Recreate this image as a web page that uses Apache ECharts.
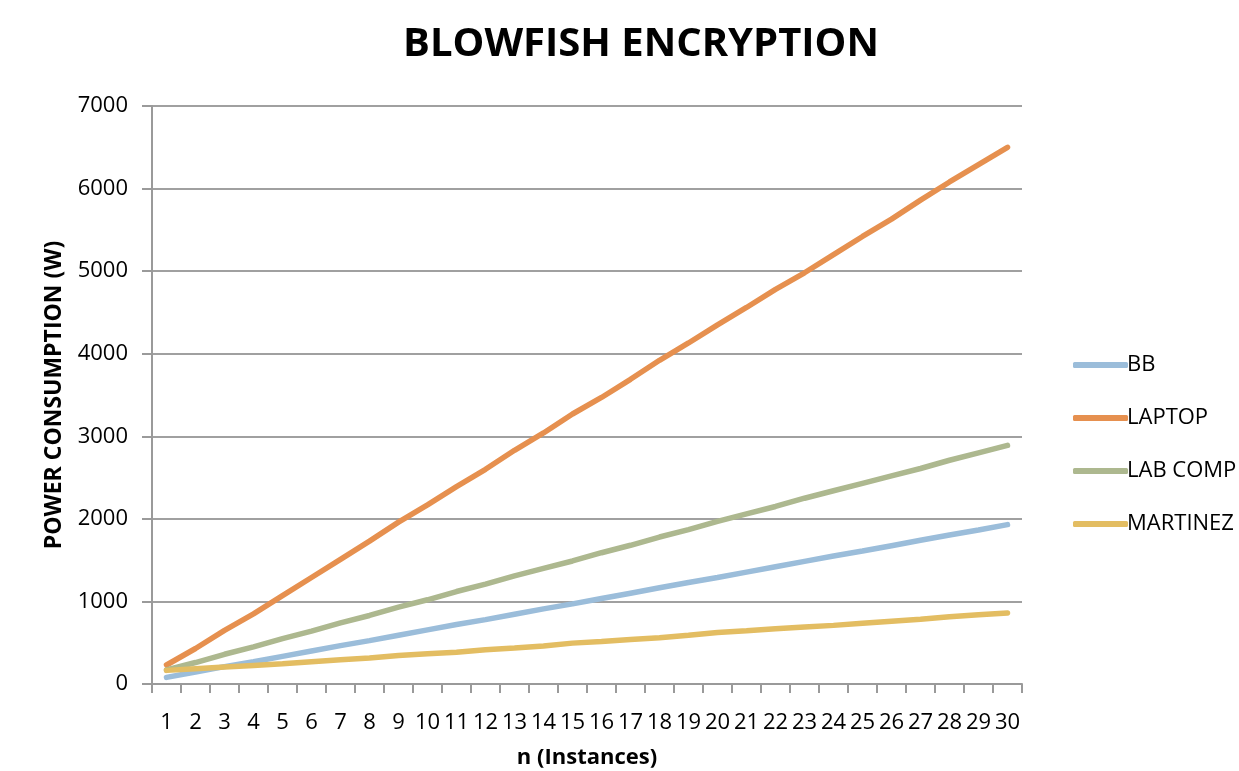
<!DOCTYPE html>
<html>
<head>
<meta charset="utf-8">
<script src="https://cdn.jsdelivr.net/npm/echarts@6/dist/echarts.min.js"></script>
<style>
  html, body { margin: 0; padding: 0; background: #fff; }
  #main { width: 1239px; height: 771px; }
</style>
</head>
<body>
<div id="main"></div>
<script>
const instances = ['1','2','3','4','5','6','7','8','9','10','11','12','13','14','15','16','17','18','19','20','21','22','23','24','25','26','27','28','29','30'];
const bb = [80,145,210,270,335,400,465,525,590,655,720,780,845,910,970,1035,1100,1165,1230,1290,1355,1420,1485,1550,1610,1675,1740,1805,1865,1930];
const laptop = [230,430,650,850,1070,1290,1510,1730,1960,2170,2390,2600,2830,3040,3270,3470,3690,3920,4130,4350,4560,4780,4980,5200,5420,5630,5860,6080,6290,6500];
const labComp = [170,260,360,450,550,640,740,830,930,1020,1120,1210,1310,1400,1490,1590,1680,1780,1870,1970,2060,2150,2250,2340,2430,2520,2610,2710,2800,2890];
const martinez = [165,185,205,225,245,270,295,315,345,365,385,415,435,460,495,515,540,560,590,625,645,670,690,710,735,760,785,815,840,860];

const font = '"Open Sans", "Noto Sans", sans-serif';
const chartDom = document.getElementById('main');
const myChart = echarts.init(chartDom);

const mkLine = (name, data, color) => ({
  name: name,
  type: 'line',
  data: data,
  symbol: 'none',
  color: color,
  lineStyle: { width: 5.5, color: color, cap: 'round' },
  emphasis: { disabled: true }
});

const option = {
  animation: false,
  textStyle: { fontFamily: font },
  title: {
    text: 'BLOWFISH ENCRYPTION',
    left: 636,
    textAlign: 'center',
    top: 20,
    textStyle: { fontFamily: font, fontWeight: 'bold', fontSize: 40, color: '#000' }
  },
  legend: {
    orient: 'vertical',
    left: 1068,
    top: 349,
    icon: 'roundRect',
    itemWidth: 55,
    itemHeight: 6,
    itemGap: 31,
    textStyle: { fontFamily: font, fontSize: 22, color: '#000', padding: [0, 0, 0, -6] },
    data: ['BB', 'LAPTOP', 'LAB COMP', 'MARTINEZ']
  },
  grid: { left: 152, right: 217, top: 106, bottom: 87, outerBoundsMode: 'none' },
  xAxis: {
    type: 'category',
    data: instances,
    name: 'n (Instances)',
    nameLocation: 'middle',
    nameGap: 63,
    nameTextStyle: { fontFamily: font, fontWeight: 'bold', fontSize: 22, color: '#000' },
    axisLine: { lineStyle: { color: '#9a9a9a', width: 2 } },
    axisTick: { show: true, alignWithLabel: false, length: 9, lineStyle: { color: '#9a9a9a', width: 2 } },
    axisLabel: { interval: 0, margin: 28, fontSize: 22, color: '#000', fontFamily: font }
  },
  yAxis: {
    type: 'value',
    min: 0,
    max: 7000,
    interval: 1000,
    name: 'POWER CONSUMPTION (W)',
    nameLocation: 'middle',
    nameGap: 86,
    nameTextStyle: { fontFamily: font, fontWeight: 'bold', fontSize: 23, color: '#000' },
    axisLine: { show: true, lineStyle: { color: '#9a9a9a', width: 2 } },
    axisTick: { show: true, length: 10, lineStyle: { color: '#9a9a9a', width: 2 } },
    axisLabel: { margin: 24, fontSize: 22, color: '#000', fontFamily: font, formatter: v => String(v) },
    splitLine: { lineStyle: { color: '#a0a0a0', width: 2 } }
  },
  series: [
    mkLine('BB', bb, '#9bbdda'),
    mkLine('LAPTOP', laptop, '#e6904f'),
    mkLine('LAB COMP', labComp, '#adb88f'),
    mkLine('MARTINEZ', martinez, '#e3bd62')
  ]
};

option && myChart.setOption(option);
</script>
</body>
</html>
